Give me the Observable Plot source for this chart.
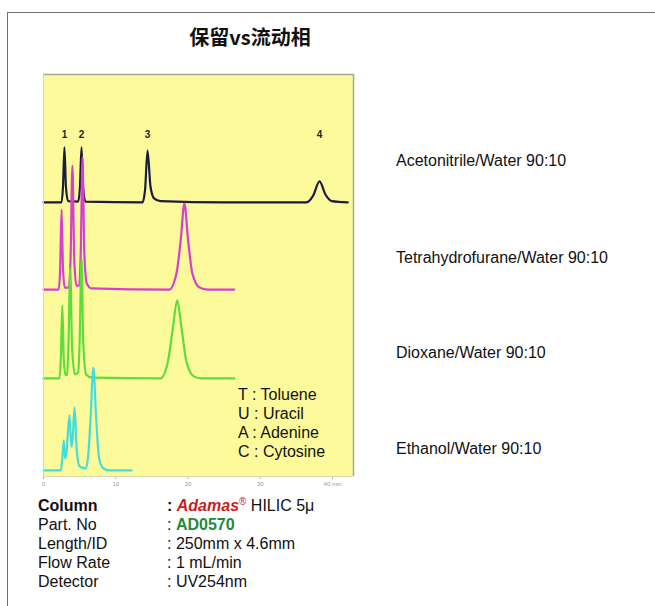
<!DOCTYPE html>
<html>
<head>
<meta charset="utf-8">
<script src="https://cdn.jsdelivr.net/npm/d3@7"></script>
<script src="https://cdn.jsdelivr.net/npm/@observablehq/plot@0.6"></script>
<style>
  body { margin: 0; background: #fff; }
  #page { position: relative; width: 655px; height: 606px; overflow: hidden; font-family: "Liberation Sans", Arial, sans-serif; color: #111; }
  #border { position: absolute; left: 7px; top: 12px; width: 700px; height: 700px; border-left: 1.5px solid #707070; border-top: 1.5px solid #707070; }
  #title { position: absolute; left: 150px; top: 25px; width: 200px; text-align: center; font-family: "Noto Sans CJK SC", sans-serif; font-weight: 700; font-size: 20px; line-height: 24px; color: #111; }
  #chart { position: absolute; left: 0; top: 0; }
  .lbl { position: absolute; font-size: 16px; line-height: 19px; white-space: nowrap; }
  #legend { position: absolute; left: 238px; top: 385px; font-size: 16px; line-height: 19px; }
  #table { position: absolute; left: 38px; top: 496px; font-size: 16px; line-height: 19px; }
  #table .row { position: relative; height: 19px; line-height: 19px; }
  #table .v { position: absolute; left: 129px; top: 0; white-space: nowrap; line-height: 19px; }
  .reg { position: relative; top: -6px; font-size: 10px; line-height: 0; color: #c81e1e; }
</style>
</head>
<body>
<div id="page">
  <div id="border"></div>
  <div id="title"></div>
  <div id="chart"></div>
  <div id="legend"></div>
  <div id="table"></div>
</div>
<script>
// ---- Data (time in min, signal in arbitrary units) ----
const seriesNames = ["Acetonitrile/Water 90:10", "Tetrahydrofurane/Water 90:10", "Dioxane/Water 90:10", "Ethanol/Water 90:10"];
const seriesColors = ["#1c1c3c", "#d63fcf", "#5ddc3a", "#45dcdc"];
const seriesOffsets = [68.2, 46.5, 24.4, 1.5];

const acetonitrile = [[0,0],[2.5,0],[2.7,4],[2.9,13.7],[3.1,4],[3.4,0.3],[4.8,0.2],[5.05,4],[5.26,13.7],[5.47,4],[5.8,0.2],[13.7,0],[14.05,3],[14.4,12.9],[14.8,4],[15.3,1],[16.2,0.3],[25,0],[36.4,0],[37.3,1.6],[38.2,5.2],[39.0,2],[39.9,0.3],[42.1,0]];
const thf = [[0,0],[2.1,0],[2.3,5],[2.5,19.9],[2.7,5],[2.95,0.5],[3.5,0.5],[3.75,8],[4.0,30.8],[4.25,8],[4.55,1],[4.95,1],[5.15,9],[5.4,32.8],[5.65,9],[6.0,1.5],[6.6,0.3],[17.4,0],[18.4,4],[19.0,12.5],[19.5,21.4],[20.0,12.5],[20.6,4],[21.6,0.5],[22.7,0],[26.4,0]];
const dioxane = [[0,0],[2.2,0],[2.4,5],[2.6,18.2],[2.8,5],[3.05,0.8],[3.25,1],[3.45,8],[3.7,27.4],[3.95,8],[4.35,1],[4.8,1.5],[5.0,9],[5.26,29.9],[5.5,9],[5.9,1],[6.7,0.2],[16.2,0],[17.2,4],[17.9,12.5],[18.5,19.4],[19.1,12.5],[19.8,4],[20.8,0.5],[21.8,0],[26.4,0]];
const ethanol = [[0,0],[2.4,0],[2.6,3],[2.8,7.5],[3.0,3],[3.15,4],[3.6,13.7],[3.85,6],[4.0,7],[4.3,15.7],[4.6,5],[5.0,1],[5.8,0.5],[6.15,3],[6.5,12.5],[6.9,25.6],[7.3,12.5],[7.7,3],[8.3,0.5],[9.2,0],[12.2,0]];
const traces = [acetonitrile, thf, dioxane, ethanol];

const peakLabels = ["1", "2", "3", "4"];
const peakTimes = [2.9, 5.26, 14.4, 38.2];
const peakLabelLevel = 85.1;

const xTicks = [0, 10, 20, 30, 40];
const xTickLabels = ["0", "10", "20", "30", "40 min"];

const legendLines = ["T : Toluene", "U : Uracil", "A : Adenine", "C : Cytosine"];

const titleText = "保留vs流动相";
const tableKeys = ["Column", "Part. No", "Length/ID", "Flow Rate", "Detector"];
const tableValues = [null, null, "250mm x 4.6mm", "1 mL/min", "UV254nm"];

// ---- Build long table ----
const rows = traces.flatMap((tr, i) => tr.map(([t, s]) => ({series: seriesNames[i], t, y: s + seriesOffsets[i]})));
const labelRows = peakLabels.map((l, i) => ({l, t: peakTimes[i], y: peakLabelLevel}));

const chart = Plot.plot({
  width: 400,
  height: 492,
  marginLeft: 43,
  marginRight: 47,
  marginTop: 74,
  marginBottom: 16,
  style: {background: "transparent", fontFamily: "Liberation Sans, Arial, sans-serif"},
  x: {domain: [0, 42.9], ticks: xTicks, tickFormat: (d) => xTickLabels[xTicks.indexOf(d)], label: null},
  y: {domain: [0, 100], axis: null},
  color: {domain: seriesNames, range: seriesColors},
  marks: [
    Plot.frame({fill: "#fdfa9c", stroke: "none"}),
    Plot.axisX({ticks: xTicks, tickFormat: (d) => xTickLabels[xTicks.indexOf(d)], tickSize: 3, fontSize: 6, color: "#999", stroke: "#aaa", tickPadding: 2, label: null}),
    Plot.line(rows, {x: "t", y: "y", z: "series", stroke: "series", strokeWidth: 2.2, curve: "monotone-x"}),
    Plot.text(labelRows, {x: "t", y: "y", text: "l", fontSize: 10, fontWeight: "bold", fill: "#222"}),
    Plot.ruleY([100], {stroke: "#a8a890", strokeWidth: 1.5}),
    Plot.ruleX([42.9], {stroke: "#a8a890", strokeWidth: 1.5}),
    Plot.ruleX([0], {stroke: "#d8d8b8", strokeWidth: 1}),
    Plot.ruleY([0], {stroke: "#d8d8b8", strokeWidth: 1})
  ]
});
document.getElementById("chart").appendChild(chart);

// ---- Text around the chart ----
document.getElementById("title").textContent = titleText;

const labelTops = [151, 248, 343, 439];
const page = document.getElementById("page");
seriesNames.forEach((n, i) => {
  const d = document.createElement("div");
  d.className = "lbl";
  d.style.left = "396px";
  d.style.top = labelTops[i] + "px";
  d.textContent = n;
  page.appendChild(d);
});

const legend = document.getElementById("legend");
legendLines.forEach(l => { const d = document.createElement("div"); d.textContent = l; legend.appendChild(d); });

const table = document.getElementById("table");
tableKeys.forEach((k, i) => {
  const r = document.createElement("div");
  r.className = "row";
  const kk = document.createElement("span");
  kk.textContent = k;
  if (i === 0) kk.style.fontWeight = "bold";
  r.appendChild(kk);
  const v = document.createElement("span");
  v.className = "v";
  if (i === 0) {
    v.innerHTML = '<b>: </b><b><i style="color:#c81e1e">Adamas</i></b><span class="reg">®</span> HILIC 5μ';
  } else if (i === 1) {
    v.innerHTML = ': <b style="color:#1f8a3c">AD0570</b>';
  } else {
    v.textContent = ": " + tableValues[i];
  }
  r.appendChild(v);
  table.appendChild(r);
});
</script>
</body>
</html>
